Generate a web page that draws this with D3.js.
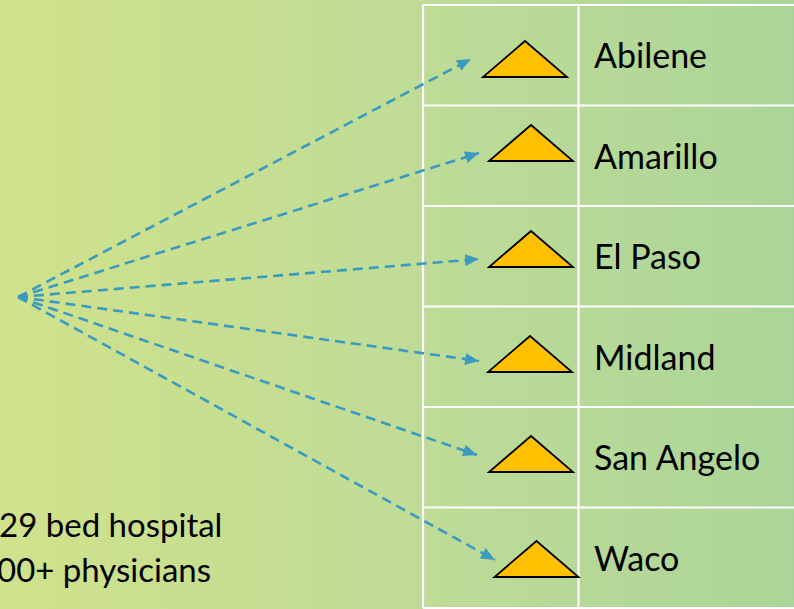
<!DOCTYPE html>
<html>
<head>
<meta charset="utf-8">
<script src="https://cdn.jsdelivr.net/npm/d3@7"></script>
<style>
  html, body { margin: 0; padding: 0; overflow: hidden; }
  svg { display: block; }
  text { font-family: Lato, "Open Sans", sans-serif; fill: #000; }
</style>
</head>
<body>
<script>
// data
const cities = ["Abilene", "Amarillo", "El Paso", "Midland", "San Angelo", "Waco"];
const notes = ["29 bed hospital", "00+ physicians"];

// layout tweaks per row (the shapes are not perfectly aligned in the original)
const triNudge = [[-6, 7], [0, -9.5], [0, -4], [-1, 0.5], [0, 0], [5.5, 4.5]];
const tipNudge = [[-8, 2.5], [0, -4], [0, 1.5], [0, 3], [-2, -3.5], [16, 1]];

const w = 794, h = 609;
const origin = [18, 297];

const svg = d3.select("body").append("svg")
  .attr("width", w)
  .attr("height", h);

const defs = svg.append("defs");
const grad = defs.append("linearGradient")
  .attr("id", "bg")
  .attr("x1", "0%").attr("x2", "100%")
  .attr("y1", "0%").attr("y2", "0%");
grad.append("stop").attr("offset", "0%").attr("stop-color", "#d0e28b");
grad.append("stop").attr("offset", "55%").attr("stop-color", "#bedb97");
grad.append("stop").attr("offset", "100%").attr("stop-color", "#abd598");

defs.append("marker")
  .attr("id", "head")
  .attr("markerUnits", "userSpaceOnUse")
  .attr("viewBox", "0 0 14 12")
  .attr("refX", 14)
  .attr("refY", 6)
  .attr("markerWidth", 14)
  .attr("markerHeight", 12)
  .attr("orient", "auto")
  .append("path")
  .attr("d", "M0,0 L14,6 L0,12 Z")
  .attr("fill", "#3a9ac0");

svg.append("rect")
  .attr("width", w)
  .attr("height", h)
  .attr("fill", "url(#bg)");

// rows of the table
const y = d3.scaleBand()
  .domain(cities)
  .range([5, 608]);

const colLeft = 423, colMid = 578.5, colRight = 820;

const grid = svg.append("g")
  .attr("stroke", "#fff")
  .attr("stroke-width", 2.2);

grid.selectAll("line.row")
  .data(cities.concat(["end"]))
  .enter()
  .append("line")
  .attr("class", "row")
  .attr("x1", colLeft).attr("x2", colRight)
  .attr("y1", (d, i) => i < cities.length ? y(d) : y.range()[1])
  .attr("y2", (d, i) => i < cities.length ? y(d) : y.range()[1]);

grid.selectAll("line.col")
  .data([colLeft, colMid])
  .enter()
  .append("line")
  .attr("class", "col")
  .attr("x1", d => d).attr("x2", d => d)
  .attr("y1", y.range()[0]).attr("y2", y.range()[1]);

// triangles
const triW = 84, triH = 36, triCx = 531, triTop = 29;

const triangle = (d, i) => {
  const cx = triCx + triNudge[i][0];
  const top = y(d) + triTop + triNudge[i][1];
  return `M${cx},${top} L${cx + triW / 2},${top + triH} L${cx - triW / 2},${top + triH} Z`;
};

// arrows
const tipX = 479, tipTop = 51.5;

svg.append("g")
  .selectAll("line")
  .data(cities)
  .enter()
  .append("line")
  .attr("x1", origin[0])
  .attr("y1", origin[1])
  .attr("x2", (d, i) => tipX + tipNudge[i][0])
  .attr("y2", (d, i) => y(d) + tipTop + tipNudge[i][1])
  .attr("stroke", "#3a9ac0")
  .attr("stroke-width", 2.6)
  .attr("stroke-dasharray", "10,6")
  .attr("marker-end", "url(#head)");

svg.append("g")
  .selectAll("path")
  .data(cities)
  .enter()
  .append("path")
  .attr("d", triangle)
  .attr("fill", "#ffc000")
  .attr("stroke", "#000")
  .attr("stroke-width", 1.8)
  .attr("stroke-linejoin", "miter");

svg.append("g")
  .selectAll("text")
  .data(cities)
  .enter()
  .append("text")
  .attr("x", 594)
  .attr("y", d => y(d) + 63)
  .style("font-size", "34px")
  .text(d => d);

svg.append("g")
  .selectAll("text")
  .data(notes)
  .enter()
  .append("text")
  .attr("x", (d, i) => i === 0 ? -1 : -3)
  .attr("y", (d, i) => 537 + i * 45)
  .style("font-size", "33px")
  .text(d => d);
</script>
</body>
</html>
